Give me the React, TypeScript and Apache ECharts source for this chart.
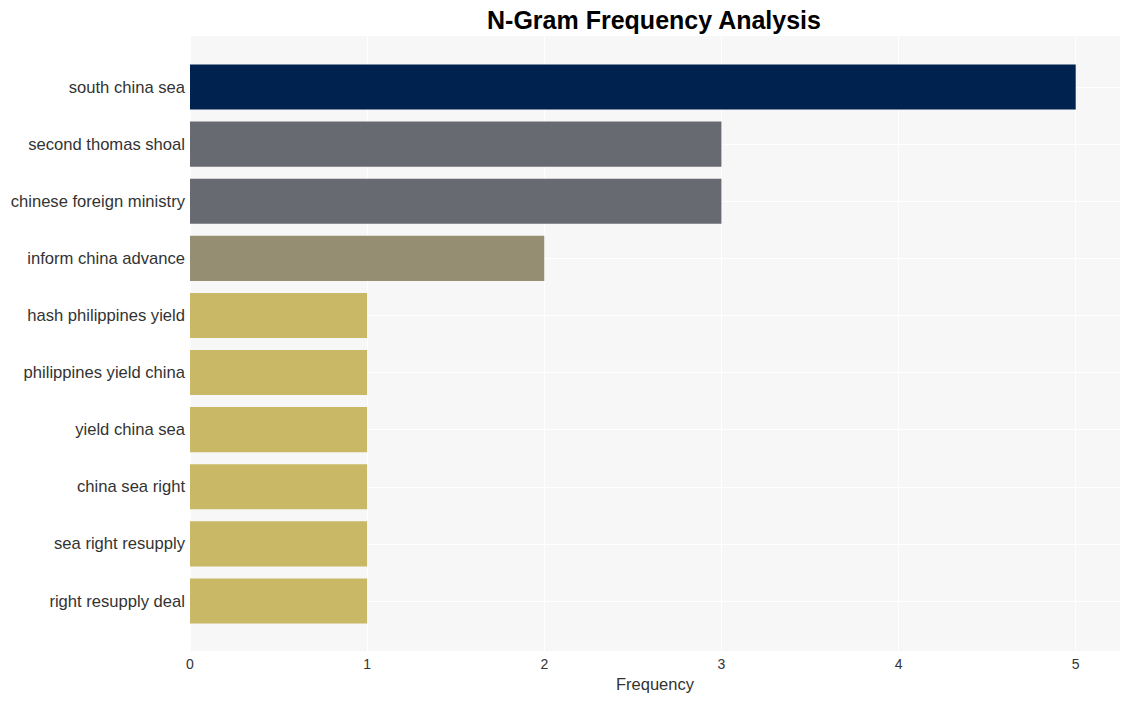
import React, { useEffect, useRef } from "react";
import * as echarts from "echarts";

const categories = [
  "south china sea",
  "second thomas shoal",
  "chinese foreign ministry",
  "inform china advance",
  "hash philippines yield",
  "philippines yield china",
  "yield china sea",
  "china sea right",
  "sea right resupply",
  "right resupply deal",
];
const values = [5, 3, 3, 2, 1, 1, 1, 1, 1, 1];
const barColors = [
  "#00224e",
  "#686a72",
  "#686a72",
  "#958e73",
  "#c9b866",
  "#c9b866",
  "#c9b866",
  "#c9b866",
  "#c9b866",
  "#c9b866",
];
const xTicks = [0, 1, 2, 3, 4, 5];
const xMax = 5.25;

export default function App() {
  const ref = useRef<HTMLDivElement>(null);
  useEffect(() => {
    if (!ref.current) return;
    const chart = echarts.init(ref.current, null, { renderer: "svg" });
    const font = "'Liberation Sans', Arial, sans-serif";
    chart.setOption({
      animation: false,
      textStyle: { fontFamily: font },
      title: {
        text: "N-Gram Frequency Analysis",
        left: 649,
        textAlign: "center",
        top: 2,
        textStyle: { fontSize: 25, fontWeight: "bold", color: "#000", fontFamily: font },
      },
      grid: [
        { left: 190, right: 9, top: 36, bottom: 50, show: true, backgroundColor: "#f7f7f7", borderWidth: 0 },
        { left: 190, right: 9, top: 87, bottom: 100, show: false },
      ],
      xAxis: [
        {
          gridIndex: 0,
          type: "value",
          min: 0,
          max: xMax,
          interval: 1,
          axisLine: { show: false },
          axisTick: { show: false },
          splitLine: { show: true, lineStyle: { color: "#ffffff", width: 1 } },
          axisLabel: {
            showMaxLabel: false,
            margin: 6,
            fontSize: 14,
            color: "#333",
            formatter: (v: number) => (xTicks.includes(v) ? String(v) : ""),
          },
          name: "Frequency",
          nameLocation: "middle",
          nameGap: 24,
          nameTextStyle: { fontSize: 16.5, color: "#333" },
        },
        {
          gridIndex: 1,
          type: "value",
          min: 0,
          max: xMax,
          show: false,
        },
      ],
      yAxis: [
        {
          gridIndex: 0,
          type: "value",
          show: false,
          min: 0,
          max: 1,
          splitLine: { show: false },
        },
        {
          gridIndex: 1,
          type: "category",
          data: categories,
          inverse: true,
          boundaryGap: false,
          axisLine: { show: false },
          axisTick: { show: false },
          splitLine: { show: true, lineStyle: { color: "#ffffff", width: 1 } },
          axisLabel: { fontSize: 16.6, color: "#333", margin: 5 },
        },
      ],
      series: [
        {
          type: "bar",
          xAxisIndex: 1,
          yAxisIndex: 1,
          barWidth: "79%",
          data: values.map((v, i) => ({ value: v, itemStyle: { color: barColors[i] } })),
        },
      ],
    });
    return () => chart.dispose();
  }, []);
  return (
    <div
      ref={ref}
      style={{ position: "absolute", left: 0, top: 0, width: 1129, height: 701 }}
    />
  );
}
